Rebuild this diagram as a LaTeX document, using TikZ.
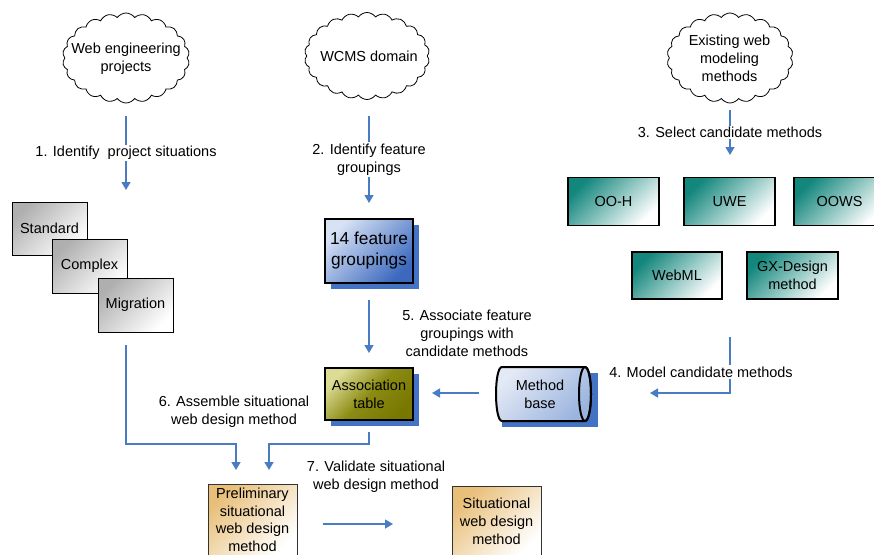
\documentclass[tikz,border=0pt]{standalone}
\usepackage{fontspec}
\setmainfont{Liberation Sans}
\usetikzlibrary{shapes.symbols,shadows,arrows.meta,calc}
\definecolor{arrowblue}{RGB}{74,124,196}
\definecolor{shadowblue}{RGB}{68,114,196}
\definecolor{tealc}{RGB}{20,135,125}
\definecolor{grayc}{RGB}{175,175,175}
\definecolor{tanc}{RGB}{232,190,120}
\definecolor{olivelight}{RGB}{220,220,150}
\definecolor{olivemid}{RGB}{140,140,20}
\definecolor{olivedark}{RGB}{120,120,0}
\definecolor{bluelight}{RGB}{215,226,245}
\definecolor{bluedark}{RGB}{60,105,190}
\definecolor{mblight}{RGB}{228,234,245}
\definecolor{mbdark}{RGB}{155,180,222}
\begin{document}
\begin{tikzpicture}[x=1pt,y=-1pt,
  every node/.style={font=\fontsize{14.5}{18}\selectfont, align=center, inner sep=0pt},
  cloudy/.style={cloud, draw=black, line width=0.8pt, fill=white, cloud puffs=22, cloud puff arc=110, cloud ignores aspect},
  flow/.style={draw=arrowblue, line width=1.4pt, -{Triangle[length=8pt,width=9pt]}},
  lbl/.style={fill=white, inner sep=1.5pt},
  gbox/.style={draw=black, line width=0.9pt, top color=grayc, bottom color=white, shading angle=45, minimum width=75, minimum height=54},
  tbox/.style={draw=black, line width=1.2pt, top color=tealc, bottom color=white, shading angle=45, minimum width=91, minimum height=48},
  pbox/.style={draw=black!80, line width=1pt, top color=tanc, bottom color=white, shading angle=45, minimum width=89, minimum height=71},
  bshadow/.style={drop shadow={fill=shadowblue, opacity=1, shadow xshift=6pt, shadow yshift=-6pt}},
  heavy/.style={draw=black, line width=2.5pt, minimum width=88, minimum height=64, shading angle=45}
]
\useasboundingbox (0,0) rectangle (874,554);

% clouds
\node[cloudy, minimum width=127, minimum height=90] (c1) at (126,58) {};
\node at (126,58.5) {Web engineering\\projects};
\node[cloudy, minimum width=125, minimum height=87] (c2) at (367,56) {};
\node at (369,56) {WCMS domain};
\node[cloudy, minimum width=126, minimum height=90] (c3) at (730,58) {};
\node at (729.5,58) {Existing web\\modeling\\methods};

% project situations
\node[gbox, minimum height=53] (std) at (49.5,228.5) {Standard};
\node[gbox] (cpx) at (89.5,266) {Complex};
\node[gbox] (mig) at (135.5,305) {Migration};

% feature groupings
\node[heavy, top color=bluelight, bottom color=bluedark, shading angle=45, bshadow,
      font=\fontsize{17.3}{21}\selectfont] (fg) at (369,251) {14 feature\\groupings};

% candidate methods
\node[tbox] (ooh) at (613.5,201.5) {OO-H};
\node[tbox] (uwe) at (729.5,201.5) {UWE};
\node[tbox] (oows) at (839.5,201.5) {OOWS};
\node[tbox, minimum width=90, minimum height=47] (webml) at (677,275.5) {WebML};
\node[tbox, minimum height=47] (gx) at (792.5,275.5) {GX-Design\\method};

% association table
\node[heavy, minimum height=52, top color=olivelight, bottom color=olivedark, middle color=olivemid, shading angle=45, bshadow] (at) at (369,394) {Association\\table};

% method base cylinder
\fill[shadowblue] (502,373) rectangle (598,427);
\shade[draw=black, line width=2pt, top color=mblight, bottom color=mbdark, shading angle=45]
  (502,367) -- (585,367) .. controls (593,367) and (593,421) .. (585,421)
  -- (502,421) .. controls (494,421) and (494,367) .. (502,367) -- cycle;
\draw[line width=2pt] (585,394) ellipse [x radius=6, y radius=27];
\node (mb) at (540,394) {Method\\base};

% results
\node[pbox, font=\fontsize{14.5}{17.6}\selectfont] (pre) at (252.5,520) {Preliminary\\situational\\web design\\method};
\node[pbox] (sit) at (496.5,521.5) {Situational\\web design\\method};

% connectors
\coordinate (a1s) at (126,116); \coordinate (a1e) at (126,190);
\draw[flow] (a1s) -- node[lbl] {1. Identify\ \ project situations} (a1e);
\coordinate (a2s) at (369,116); \coordinate (a2e) at (369,203);
\draw[flow] (a2s) -- node[lbl] {2. Identify feature\\groupings} (a2e);
\coordinate (a3s) at (730,110); \coordinate (a3e) at (730,155);
\draw[flow] (a3s) -- node[lbl] {3. Select candidate methods} (a3e);

\coordinate (a4s) at (730,337); \coordinate (a4e) at (650,393);
\draw[flow] (a4s) |- (a4e);
\node[lbl] (l4) at (701,372) {4. Model candidate methods};

\coordinate (a5s) at (369,300); \coordinate (a5e) at (369,353);
\draw[flow] (a5s) -- (a5e);
\node (l5) at (467,333) {5. Associate feature\\groupings with\\candidate methods};

\coordinate (mbo) at (479,393); \coordinate (ati) at (432,393);
\draw[flow] (mbo) -- (ati);

\coordinate (a6s) at (126,345); \coordinate (a6k) at (236,444); \coordinate (a6e) at (236,470);
\draw[flow] (a6s) |- (a6k) -- (a6e);
\coordinate (a6t) at (369,432); \coordinate (a6m) at (269,444); \coordinate (a6f) at (269,470);
\draw[flow] (a6t) |- (a6m) -- (a6f);
\node (l6) at (234,412) {6. Assemble situational\\web design method};

\coordinate (a7s) at (323,524); \coordinate (a7e) at (393,524);
\draw[flow] (a7s) -- (a7e);
\node (l7) at (376,477) {7. Validate situational\\web design method};
\end{tikzpicture}
\end{document}
